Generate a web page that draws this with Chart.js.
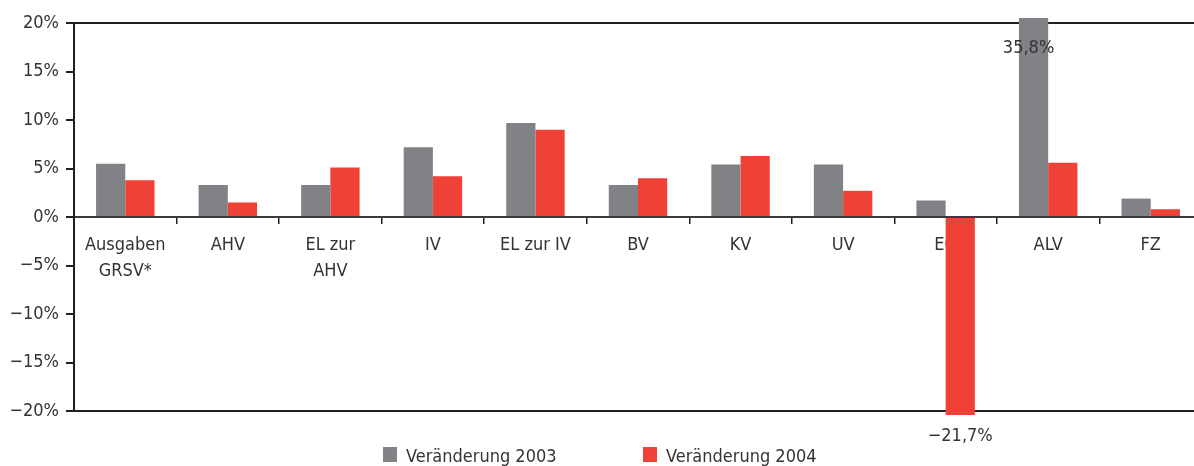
<!DOCTYPE html>
<html><head><meta charset="utf-8">
<script src="https://cdn.jsdelivr.net/npm/chart.js@4/dist/chart.umd.min.js"></script>
<style>html,body{margin:0;padding:0;background:#fff;overflow:hidden}#wrap{width:1194px;height:466px;position:relative;overflow:hidden}canvas{display:block}</style>
</head><body><div id="wrap"><canvas id="c" width="1202" height="466"></canvas></div>
<script>
const categories = [['Ausgaben','GRSV*'],'AHV',['EL zur','AHV'],'IV','EL zur IV','BV','KV','UV','EO','ALV','FZ'];
const change2003 = [5.5,3.3,3.3,7.2,9.7,3.3,5.4,5.4,1.7,35.8,1.9];
const change2004 = [3.8,1.5,5.1,4.2,9.0,4.0,6.3,2.7,-21.7,5.6,0.8];
const yTickValues = [-20,-15,-10,-5,0,5,10,15,20];
const yTickLabels = ['−20%','−15%','−10%','−5%','0%','5%','10%','15%','20%'];
const seriesNames = ['Veränderung 2003','Veränderung 2004'];
const seriesColors = ['#808285','#ef4136'];

const FONT = "'DejaVu Sans Condensed', 'DejaVu Sans', sans-serif";
const TEXT = '#333333';
const LINE = '#231f20';
const VISIBLE_WIDTH = 1194;
const fmt = v => (v < 0 ? '−' : '') + Math.abs(v).toFixed(1).replace('.', ',') + '%';

const overflowLabels = {
  id: 'overflowLabels',
  afterDatasetsDraw(chart) {
    const ctx = chart.ctx, area = chart.chartArea, y = chart.scales.y;
    ctx.save();
    ctx.font = '18px ' + FONT;
    ctx.fillStyle = TEXT;
    ctx.textAlign = 'center';
    ctx.textBaseline = 'middle';
    chart.data.datasets.forEach((ds, di) => {
      const meta = chart.getDatasetMeta(di);
      ds.data.forEach((v, i) => {
        if (v > y.max) ctx.fillText(fmt(v), meta.data[i].x - 5, area.top + 25);
        else if (v < y.min) ctx.fillText(fmt(v), meta.data[i].x, area.bottom + 25);
      });
    });
    ctx.restore();
  }
};

const customLegend = {
  id: 'customLegend',
  afterDraw(chart) {
    const ctx = chart.ctx;
    const cx = VISIBLE_WIDTH / 2;
    const starts = [cx - 214, cx + 46];
    ctx.save();
    ctx.font = '18px ' + FONT;
    ctx.textBaseline = 'alphabetic';
    ctx.textAlign = 'left';
    seriesNames.forEach((name, i) => {
      ctx.fillStyle = seriesColors[i];
      ctx.fillRect(starts[i], 447, 14, 15);
      ctx.fillStyle = TEXT;
      ctx.fillText(name, starts[i] + 23, 462);
    });
    ctx.restore();
  }
};

new Chart(document.getElementById('c'), {
  type: 'bar',
  data: {
    labels: categories,
    datasets: [
      { label: seriesNames[0], data: change2003, backgroundColor: seriesColors[0], clip: {left: 0, top: 5, right: 0, bottom: 4} },
      { label: seriesNames[1], data: change2004, backgroundColor: seriesColors[1], clip: {left: 0, top: 5, right: 0, bottom: 4} }
    ]
  },
  options: {
    responsive: false,
    animation: false,
    devicePixelRatio: 1,
    layout: { padding: { top: 23, bottom: 55, left: 0, right: 0 } },
    datasets: { bar: { categoryPercentage: 0.57, barPercentage: 1.0 } },
    plugins: { legend: { display: false }, tooltip: { enabled: false } },
    scales: {
      x: {
        type: 'category',
        position: { y: 0 },
        offset: true,
        grid: { offset: true, drawOnChartArea: false, drawTicks: true, tickLength: 6, tickColor: LINE, lineWidth: 1.5 },
        border: { display: true, color: '#3a3a3a', width: 2 },
        ticks: { font: { family: FONT, size: 18, lineHeight: 1.444 }, color: TEXT, padding: 9, maxRotation: 0, autoSkip: false }
      },
      y: {
        min: -20, max: 20,
        afterBuildTicks(scale) { scale.ticks = yTickValues.map(v => ({ value: v })); },
        afterFit(scale) { scale.width = 74; },
        grid: {
          color: c => (c.tick && Math.abs(c.tick.value) === 20) ? LINE : 'rgba(0,0,0,0)',
          lineWidth: 2, tickColor: LINE, tickLength: 8, drawTicks: true
        },
        border: { display: true, color: LINE, width: 2 },
        ticks: {
          font: { family: FONT, size: 18 }, color: TEXT, padding: 7,
          callback: (v) => yTickLabels[yTickValues.indexOf(v)]
        }
      }
    }
  },
  plugins: [overflowLabels, customLegend]
});
</script></body></html>
